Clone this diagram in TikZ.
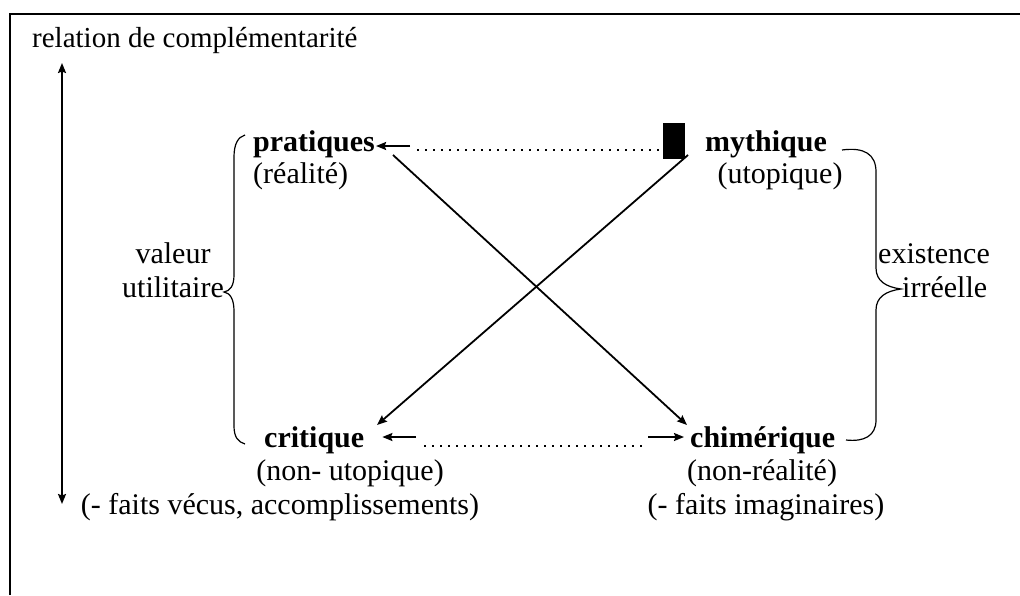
\documentclass[tikz,border=0pt]{standalone}
\usepackage{fontspec}
\setmainfont{Liberation Serif}
\usetikzlibrary{arrows.meta}
\begin{document}
\begin{tikzpicture}[x=1pt,y=-1pt,
  lbl/.style={inner sep=0pt, font=\fontsize{30}{34}\selectfont},
  lblb/.style={inner sep=0pt, font=\fontsize{30}{34}\selectfont\bfseries},
  arr/.style={line width=1.8pt, -{Stealth[length=10pt,width=8pt,inset=1.5pt]}},
  dbl/.style={line width=1.8pt, {Stealth[length=10pt,width=8pt,inset=1.5pt]}-{Stealth[length=10pt,width=8pt,inset=1.5pt]}},
  dots/.style={line width=2.2pt, dash pattern=on 2pt off 6pt},
  brace/.style={line width=1.2pt}]
\useasboundingbox (0,0) rectangle (1020,595);
% frame
\draw[line width=2.5pt, line join=miter] (10,595) -- (10,14) -- (1020,14);
% title and vertical arrow
\node[inner sep=0pt, font=\fontsize{29}{33}\selectfont, anchor=base west] (title) at (32,47) {relation de complémentarité};
\coordinate (vtop) at (62,63);
\coordinate (vbot) at (62,504);
\draw[dbl] (vbot) -- (vtop);
% main nodes
\node[lblb, anchor=base west] (prat) at (253,151) {pratiques};
\node[lbl, anchor=base west] (real) at (253,183) {(réalité)};
\node[lblb, anchor=base west] (myth) at (705,151) {mythique};
\node[lbl, anchor=base] (utop) at (780,183) {(utopique)};
\node[lblb, anchor=base west] (crit) at (264,447) {critique};
\node[lblb, anchor=base west] (chim) at (690,447) {chimérique};
\node[lbl, anchor=base] (nonutop) at (350,480) {(non- utopique)};
\node[lbl, anchor=base] (vecus) at (280,514) {(- faits vécus, accomplissements)};
\node[lbl, anchor=base] (nonreal) at (762,480) {(non-réalité)};
\node[lbl, anchor=base] (imag) at (766,514) {(- faits imaginaires)};
\node[lbl, anchor=base] (valeur) at (173,263) {valeur};
\node[lbl, anchor=base] (util) at (173,297) {utilitaire};
\node[lbl, anchor=base west] (exist) at (878,263) {existence};
\node[lbl, anchor=base west] (irr) at (902,297) {irréelle};
% black block
\node[fill=black, minimum width=22pt, minimum height=36pt, inner sep=0pt, anchor=north west] (blk) at (663,123) {};
% top horizontal connector
\coordinate (tA) at (410,146);
\coordinate (tDs) at (417,150);
\draw[arr] (tA) -- ([xshift=1pt]prat.east |- tA);
\draw[dots] (tDs) -- (blk.west |- tDs);
% bottom horizontal connectors
\coordinate (bL) at (416,437);
\coordinate (bR) at (648,437);
\coordinate (bDs) at (424,446);
\coordinate (bDe) at (642,446);
\draw[arr] (bL) -- ([xshift=18pt]crit.east |- bL);
\draw[arr] (bR) -- ([xshift=-6pt]chim.west |- bR);
\draw[dots] (bDs) -- (bDe);
% diagonals
\coordinate (d1s) at (393,155);
\coordinate (d1e) at (687,425);
\coordinate (d2s) at (688,155);
\coordinate (d2e) at (377,425);
\draw[arr] (d1s) -- (d1e);
\draw[arr] (d2s) -- (d2e);
% left brace
\draw[brace] (245,135) .. controls (238,137) and (234,144) .. (234,157) -- (234,275)
  .. controls (234,286) and (230,291) .. (224,292) .. controls (230,293) and (234,299) .. (234,311)
  -- (234,426) .. controls (234,437) and (238,442) .. (245,444);
% right brace
\draw[brace] (842,150) .. controls (864,147) and (876,154) .. (876,172) -- (876,268)
  .. controls (876,281) and (886,287) .. (901,289) .. controls (886,291) and (876,297) .. (876,310)
  -- (876,420) .. controls (876,436) and (864,442) .. (846,440);
\end{tikzpicture}
\end{document}
